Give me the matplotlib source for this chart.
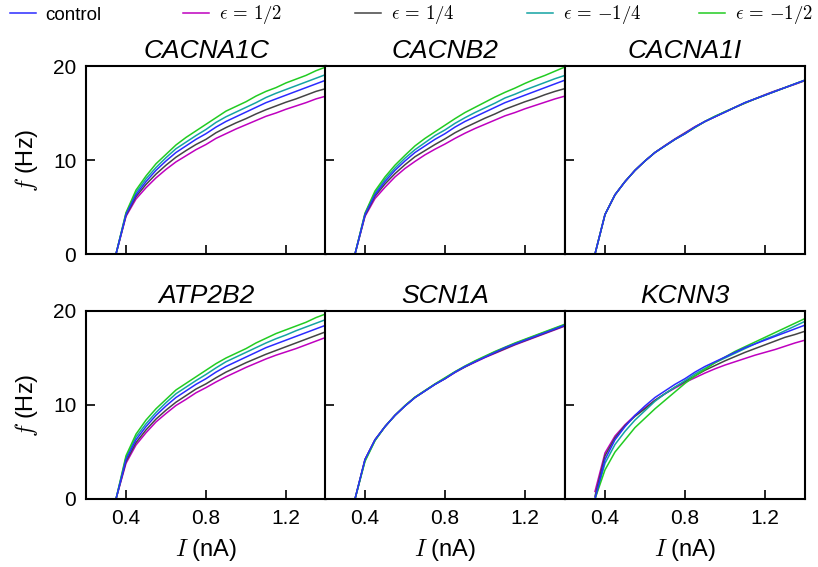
import matplotlib
matplotlib.use("Agg")
import matplotlib.pyplot as plt

plt.rcParams["font.family"] = ["Liberation Sans", "DejaVu Sans"]
plt.rcParams["mathtext.fontset"] = "cm"

# injected current (nA)
current = [0.35, 0.40, 0.45, 0.50, 0.55, 0.60, 0.65, 0.70, 0.75, 0.80, 0.85,
           0.90, 0.95, 1.00, 1.05, 1.10, 1.15, 1.20, 1.25, 1.30, 1.35, 1.40]

# firing rate (Hz) of the unperturbed model
control = [0, 4.2, 6.3, 7.7, 8.9, 9.9, 10.8, 11.5, 12.2, 12.8, 13.5,
           14.1, 14.6, 15.1, 15.6, 16.1, 16.5, 16.9, 17.3, 17.7, 18.1, 18.5]

# per gene: rows are eps = 1/2, 1/4, -1/4, -1/2
CACNA1C = [
    [0, 4.0, 5.85, 7.05, 8.1, 9.0, 9.8, 10.45, 11.1, 11.65, 12.3,
     12.8, 13.3, 13.75, 14.2, 14.65, 15.0, 15.4, 15.75, 16.1, 16.5, 16.8],
    [0, 4.1, 6.1, 7.4, 8.5, 9.45, 10.3, 11.0, 11.65, 12.2, 12.9,
     13.45, 13.95, 14.4, 14.9, 15.35, 15.75, 16.15, 16.5, 16.9, 17.3, 17.6],
    [0, 4.3, 6.55, 8.0, 9.2, 10.25, 11.2, 11.9, 12.6, 13.25, 14.0,
     14.6, 15.1, 15.6, 16.1, 16.65, 17.1, 17.5, 17.9, 18.3, 18.7, 19.1],
    [0, 4.4, 6.8, 8.3, 9.6, 10.6, 11.6, 12.4, 13.1, 13.8, 14.5,
     15.2, 15.7, 16.2, 16.8, 17.3, 17.7, 18.2, 18.6, 19.0, 19.5, 19.9],
]
CACNB2 = [
    [0, 4.0, 5.9, 7.1, 8.2, 9.1, 9.85, 10.55, 11.15, 11.7, 12.3,
     12.85, 13.35, 13.8, 14.25, 14.7, 15.05, 15.45, 15.8, 16.15, 16.5, 16.8],
    [0, 4.1, 6.15, 7.45, 8.55, 9.5, 10.35, 11.0, 11.65, 12.25, 12.9,
     13.45, 13.95, 14.45, 14.9, 15.4, 15.8, 16.2, 16.55, 16.95, 17.3, 17.6],
    [0, 4.25, 6.5, 7.95, 9.15, 10.2, 11.1, 11.85, 12.6, 13.2, 13.9,
     14.5, 15.05, 15.55, 16.05, 16.6, 17.0, 17.45, 17.85, 18.25, 18.65, 19.0],
    [0, 4.35, 6.7, 8.2, 9.45, 10.5, 11.5, 12.3, 13.0, 13.7, 14.4,
     15.05, 15.6, 16.15, 16.7, 17.2, 17.65, 18.15, 18.6, 19.0, 19.45, 19.9],
]
CACNA1I = [
    [0, 4.2, 6.3, 7.7, 8.9, 9.9, 10.8, 11.55, 12.25, 12.9, 13.55,
     14.1, 14.6, 15.1, 15.6, 16.05, 16.5, 16.95, 17.35, 17.7, 18.05, 18.45],
    [0, 4.2, 6.3, 7.7, 8.9, 9.9, 10.8, 11.5, 12.2, 12.85, 13.5,
     14.1, 14.6, 15.1, 15.6, 16.1, 16.5, 16.9, 17.3, 17.7, 18.1, 18.45],
    [0, 4.2, 6.3, 7.7, 8.9, 9.9, 10.8, 11.5, 12.2, 12.8, 13.5,
     14.1, 14.65, 15.1, 15.6, 16.1, 16.5, 16.9, 17.3, 17.7, 18.1, 18.5],
    [0, 4.2, 6.3, 7.7, 8.9, 9.9, 10.8, 11.5, 12.2, 12.8, 13.45,
     14.1, 14.65, 15.15, 15.6, 16.05, 16.5, 16.9, 17.3, 17.7, 18.1, 18.5],
]
ATP2B2 = [
    [0, 3.8, 5.75, 7.05, 8.2, 9.1, 9.95, 10.6, 11.3, 11.85, 12.45,
     13.0, 13.5, 14.0, 14.45, 14.9, 15.3, 15.65, 16.0, 16.4, 16.8, 17.2],
    [0, 4.0, 6.0, 7.35, 8.5, 9.45, 10.3, 11.0, 11.7, 12.25, 12.9,
     13.5, 14.0, 14.5, 14.95, 15.4, 15.8, 16.2, 16.6, 17.0, 17.4, 17.8],
    [0, 4.4, 6.6, 8.0, 9.2, 10.25, 11.2, 11.9, 12.6, 13.25, 13.95,
     14.6, 15.1, 15.6, 16.1, 16.6, 17.05, 17.45, 17.9, 18.3, 18.7, 19.1],
    [0, 4.6, 6.9, 8.4, 9.6, 10.6, 11.6, 12.3, 13.0, 13.7, 14.4,
     15.0, 15.5, 16.0, 16.6, 17.1, 17.6, 18.0, 18.4, 18.8, 19.3, 19.7],
]
SCN1A = [
    [0, 4.2, 6.3, 7.7, 8.9, 9.9, 10.8, 11.5, 12.2, 12.8, 13.45,
     14.05, 14.55, 15.05, 15.5, 15.95, 16.4, 16.8, 17.2, 17.6, 18.0, 18.4],
    [0, 4.2, 6.3, 7.7, 8.9, 9.9, 10.8, 11.5, 12.2, 12.8, 13.5,
     14.05, 14.6, 15.1, 15.55, 16.0, 16.45, 16.85, 17.25, 17.65, 18.05, 18.45],
    [0, 4.1, 6.25, 7.7, 8.9, 9.9, 10.8, 11.5, 12.2, 12.85, 13.5,
     14.1, 14.65, 15.15, 15.65, 16.1, 16.55, 16.95, 17.35, 17.75, 18.15, 18.55],
    [0, 4.0, 6.2, 7.7, 8.9, 9.95, 10.85, 11.55, 12.25, 12.9, 13.55,
     14.15, 14.7, 15.2, 15.7, 16.15, 16.6, 17.0, 17.4, 17.8, 18.2, 18.6],
]
KCNN3 = [
    [0.8, 4.9, 6.7, 7.9, 8.9, 9.7, 10.5, 11.2, 11.8, 12.4, 12.9,
     13.4, 13.85, 14.25, 14.6, 14.95, 15.3, 15.6, 15.9, 16.25, 16.6, 16.9],
    [0.3, 4.6, 6.5, 7.8, 8.8, 9.6, 10.5, 11.2, 11.9, 12.5, 13.1,
     13.7, 14.2, 14.7, 15.15, 15.6, 16.0, 16.4, 16.8, 17.2, 17.5, 17.85],
    [0, 3.8, 5.8, 7.2, 8.4, 9.4, 10.4, 11.2, 11.9, 12.6, 13.3,
     13.9, 14.5, 15.0, 15.5, 16.0, 16.5, 17.0, 17.4, 17.9, 18.4, 18.9],
    [0, 3.1, 5.0, 6.3, 7.6, 8.6, 9.6, 10.5, 11.4, 12.3, 13.1,
     13.8, 14.5, 15.1, 15.7, 16.2, 16.7, 17.2, 17.7, 18.2, 18.7, 19.2],
]

genes = ["CACNA1C", "CACNB2", "CACNA1I", "ATP2B2", "SCN1A", "KCNN3"]
gene_data = [CACNA1C, CACNB2, CACNA1I, ATP2B2, SCN1A, KCNN3]

eps_labels = [r"$\epsilon\,=\,1/2$", r"$\epsilon\,=\,1/4$",
              r"$\epsilon\,=\,{-1/4}$", r"$\epsilon\,=\,{-1/2}$"]
eps_colors = ["#bf00bf", "#444444", "#14a3a3", "#22cc22"]
control_color = "#2b2bff"

W, H = 818, 567
fig = plt.figure(figsize=(W / 100, H / 100), dpi=100)

lefts = [86, 325, 565]
tops = [66, 311]
ax_w, ax_h = 240, 188

handles = None
for i, (gene, curves) in enumerate(zip(genes, gene_data)):
    row, col = divmod(i, 3)
    ax = fig.add_axes([lefts[col] / W, 1 - (tops[row] + ax_h) / H, ax_w / W, ax_h / H])
    lines = []
    for vals, c, lab in zip(curves, eps_colors, eps_labels):
        ln, = ax.plot(current, vals, color=c, lw=1.1, label=lab)
        lines.append(ln)
    ln_c, = ax.plot(current, control, color=control_color, lw=1.1, label="control")
    if handles is None:
        handles = [ln_c] + lines

    ax.set_xlim(0.2, 1.4)
    ax.set_ylim(0, 20)
    ax.set_xticks([0.4, 0.8, 1.2])
    ax.set_yticks([0, 10, 20])
    ax.tick_params(direction="in", length=6.5, width=1.2, labelsize=15, pad=7)
    for sp in ax.spines.values():
        sp.set_linewidth(1.5)
    ax.set_title(gene, fontsize=19, style="italic", pad=6)
    if col == 0:
        ax.set_ylabel(r"$f$ (Hz)", fontsize=17, labelpad=9)
    else:
        ax.set_yticklabels([])
    if row == 0:
        ax.set_xticklabels([])
    else:
        ax.set_xlabel(r"$I$ (nA)", fontsize=17, labelpad=7)

# legend entries spaced evenly along the top
leg_x = [10, 183, 355, 527, 699]
for h, x0 in zip(handles, leg_x):
    fig.legend([h], [h.get_label()], loc="center left",
               bbox_to_anchor=(x0 / W, 1 - 15 / H), frameon=False,
               fontsize=13.5, handlelength=1.4, handletextpad=0.5,
               borderpad=0, borderaxespad=0)

fig.savefig("out.png", dpi=100)
